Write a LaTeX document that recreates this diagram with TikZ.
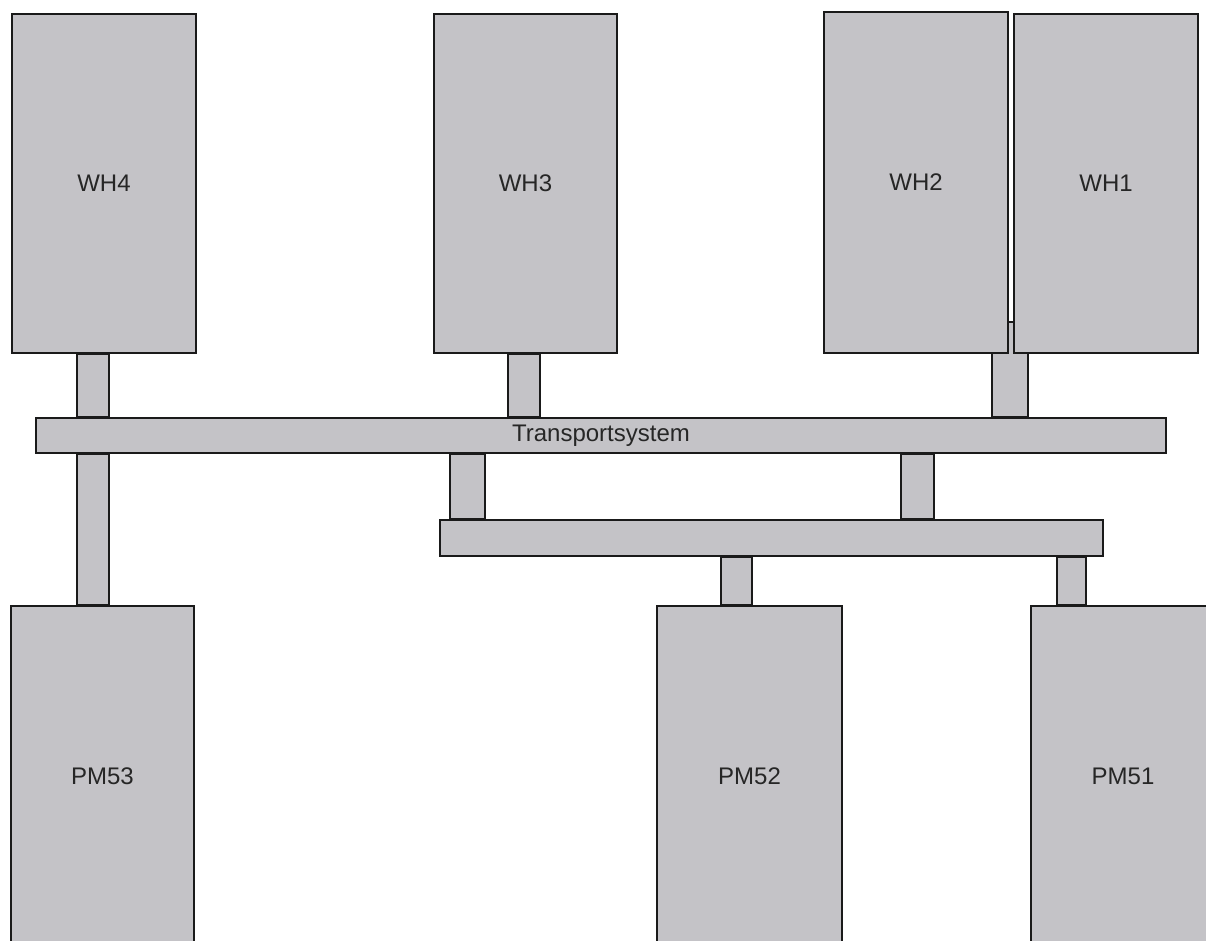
\documentclass[tikz,border=0pt]{standalone}
\usepackage{fontspec}
\setmainfont{Liberation Sans}
\usetikzlibrary{calc,backgrounds}
\definecolor{boxgrey}{RGB}{196,195,199}
\definecolor{edgecol}{RGB}{26,26,26}
\newcommand{\linkbar}[4]{\draw[barstyle] ($(#1 -| #3)+(-#4/2,0)$) rectangle ($(#2 -| #3)+(#4/2,0)$);}
\begin{document}
\begin{tikzpicture}[x=1pt,y=1pt,
  unit/.style={draw=edgecol, fill=boxgrey, line width=1.6pt, rectangle, inner sep=0pt,
    text=black!85, font=\fontsize{24}{28}\selectfont},
  barstyle/.style={draw=edgecol, fill=boxgrey, line width=1.6pt}]
\useasboundingbox (0,0) rectangle (1206,-940);
\clip (0,0) rectangle (1206,-940);

% warehouses
\node[unit, minimum width=184pt, minimum height=339pt] (wh4) at (104,-183.5) {WH4};
\node[unit, minimum width=183pt, minimum height=339pt] (wh3) at (525.5,-183.5) {WH3};
\node[unit, minimum width=184pt, minimum height=341pt] (wh2) at (916,-182.5) {WH2};
\node[unit, minimum width=184pt, minimum height=339pt] (wh1) at (1106,-183.5) {WH1};

% transport bars
\node[unit, minimum width=1130pt, minimum height=35pt] (ts) at (601,-435.5) {Transportsystem};
\node[unit, minimum width=663pt, minimum height=36pt] (lb) at (771.5,-538) {};

% production machines
\node[unit, minimum width=183pt, minimum height=340pt] (pm53) at (102.5,-776) {PM53};
\node[unit, minimum width=185pt, minimum height=340pt] (pm52) at (749.5,-776) {PM52};
\node[unit, minimum width=184pt, minimum height=340pt] (pm51) at (1123,-776) {PM51};

% connector positions
\coordinate (x1) at (93,0);
\coordinate (x2) at (524,0);
\coordinate (c3top) at (1010,-322);
\coordinate (x5) at (467.5,0);
\coordinate (x6) at (917.5,0);
\coordinate (x7) at (736.5,0);
\coordinate (x8) at (1071.5,0);

\begin{pgfonlayer}{background}
\linkbar{wh4.south}{ts.north}{x1}{32}
\linkbar{wh3.south}{ts.north}{x2}{32}
\draw[barstyle] ($(c3top)+(-18,0)$) rectangle ($(ts.north -| c3top)+(18,0)$);
\linkbar{ts.south}{pm53.north}{x1}{32}
\linkbar{ts.south}{lb.north}{x5}{35}
\linkbar{ts.south}{lb.north}{x6}{33}
\linkbar{lb.south}{pm52.north}{x7}{31}
\linkbar{lb.south}{pm51.north}{x8}{29}
\end{pgfonlayer}
\end{tikzpicture}
\end{document}
